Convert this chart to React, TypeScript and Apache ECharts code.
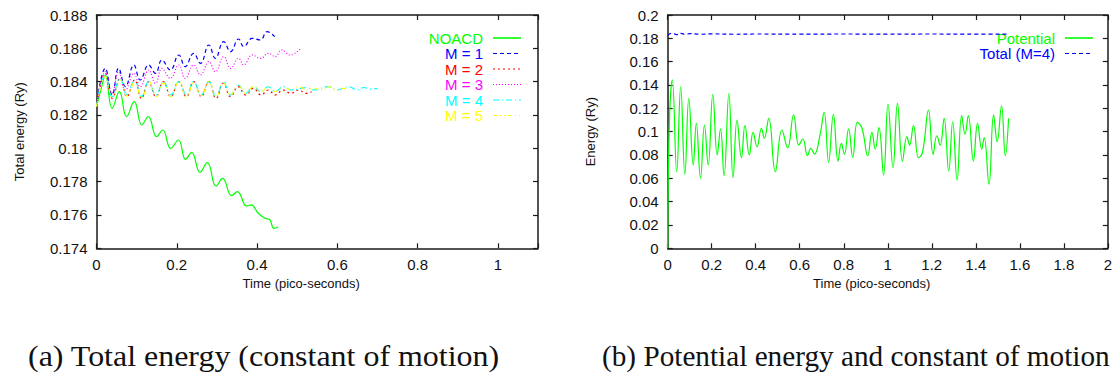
import React, { useEffect, useRef } from "react";
import * as echarts from "echarts";

// ---------- Panel (a): total energy, time in ps ----------
const noacd: number[][] = [
  [0, 0.1825], [0.012, 0.1836], [0.022, 0.1844], [0.039, 0.1824], [0.057, 0.1834],
  [0.075, 0.1819], [0.094, 0.1828], [0.113, 0.1814], [0.129, 0.1819], [0.15, 0.1807],
  [0.165, 0.1811], [0.185, 0.18], [0.204, 0.1805], [0.222, 0.17934], [0.237, 0.17976],
  [0.258, 0.17856], [0.276, 0.17914], [0.298, 0.17774], [0.314, 0.1782], [0.337, 0.17716],
  [0.351, 0.1774], [0.374, 0.17654], [0.385, 0.1766], [0.403, 0.1761], [0.42, 0.1758],
  [0.431, 0.17574], [0.442, 0.1752], [0.453, 0.17528],
];
const m1: number[][] = [
  [0, 0.1825], [0.022, 0.1848], [0.039, 0.1832], [0.055, 0.1848], [0.072, 0.1837],
  [0.093, 0.185], [0.109, 0.1841], [0.13, 0.185], [0.147, 0.1845], [0.163, 0.1853],
  [0.184, 0.1847], [0.205, 0.1856], [0.221, 0.1849], [0.242, 0.1857], [0.259, 0.1851],
  [0.28, 0.1862], [0.296, 0.1854], [0.317, 0.1864], [0.334, 0.1858], [0.354, 0.18656],
  [0.367, 0.1861], [0.388, 0.1866], [0.408, 0.1865], [0.425, 0.187], [0.444, 0.1867],
];
const m2: number[][] = [
  [0, 0.1825], [0.022, 0.1845], [0.039, 0.183], [0.059, 0.1842], [0.076, 0.1831],
  [0.095, 0.1841], [0.112, 0.183], [0.13, 0.184], [0.148, 0.1831], [0.167, 0.184],
  [0.185, 0.1831], [0.205, 0.184], [0.224, 0.1831], [0.242, 0.184], [0.261, 0.1831],
  [0.28, 0.184], [0.298, 0.183], [0.316, 0.1839], [0.334, 0.1831], [0.353, 0.1837],
  [0.372, 0.1832], [0.391, 0.1836], [0.41, 0.1832], [0.428, 0.1835], [0.445, 0.1832],
  [0.465, 0.1835], [0.485, 0.1833], [0.503, 0.1835], [0.522, 0.1833], [0.536, 0.1834],
];
const m3: number[][] = [
  [0, 0.1825], [0.022, 0.1846], [0.039, 0.1833], [0.055, 0.1846], [0.072, 0.1835],
  [0.093, 0.1845], [0.109, 0.1837], [0.13, 0.1847], [0.147, 0.1839], [0.163, 0.1848],
  [0.184, 0.1842], [0.205, 0.185], [0.221, 0.1842], [0.242, 0.185], [0.259, 0.1844],
  [0.28, 0.1852], [0.296, 0.1846], [0.317, 0.1855], [0.334, 0.1848], [0.354, 0.1854],
  [0.367, 0.185], [0.388, 0.1856], [0.408, 0.1854], [0.429, 0.1857], [0.445, 0.1855],
  [0.461, 0.1859], [0.482, 0.1856], [0.509, 0.186],
];
const m4: number[][] = [
  [0, 0.1825], [0.022, 0.1844], [0.039, 0.1831], [0.059, 0.1842], [0.076, 0.1832],
  [0.095, 0.1841], [0.112, 0.1831], [0.13, 0.184], [0.148, 0.1832], [0.167, 0.184],
  [0.185, 0.1832], [0.205, 0.184], [0.224, 0.1832], [0.242, 0.184], [0.261, 0.1832],
  [0.28, 0.184], [0.298, 0.1831], [0.316, 0.184], [0.334, 0.1832], [0.353, 0.1838],
  [0.372, 0.1833], [0.391, 0.1837], [0.41, 0.1834], [0.428, 0.1837], [0.445, 0.1834],
  [0.465, 0.1837], [0.485, 0.1835], [0.523, 0.18364], [0.541, 0.1835], [0.578, 0.1837],
  [0.599, 0.1835], [0.628, 0.1837], [0.649, 0.1835], [0.666, 0.18365], [0.683, 0.18355],
  [0.699, 0.1836],
];
const m5: number[][] = [
  [0, 0.1825], [0.022, 0.1843], [0.04, 0.183], [0.059, 0.1841], [0.077, 0.1831],
  [0.095, 0.184], [0.113, 0.183], [0.131, 0.184], [0.149, 0.1831], [0.167, 0.1839],
  [0.186, 0.1831], [0.205, 0.184], [0.224, 0.1831], [0.242, 0.1839], [0.261, 0.1831],
  [0.28, 0.184], [0.298, 0.1831], [0.316, 0.1839], [0.334, 0.1832], [0.353, 0.1838],
  [0.372, 0.1833], [0.391, 0.1837], [0.41, 0.1834], [0.428, 0.1837], [0.445, 0.1834],
  [0.465, 0.1837], [0.485, 0.1835], [0.504, 0.1837], [0.523, 0.1835], [0.541, 0.1836],
  [0.56, 0.1835], [0.578, 0.1837], [0.599, 0.1835], [0.615, 0.1836], [0.63, 0.18355],
];

// ---------- Panel (b): potential energy and constant of motion ----------
const potential: number[][] = [
  [0, 0], [0.008, 0.11], [0.021, 0.1443], [0.041, 0.0657], [0.059, 0.1385], [0.078, 0.0634],
  [0.096, 0.1286], [0.116, 0.0714], [0.13, 0.1071], [0.149, 0.06], [0.167, 0.1057],
  [0.184, 0.0714], [0.205, 0.132], [0.225, 0.08], [0.24, 0.1023], [0.256, 0.0623],
  [0.278, 0.1329], [0.297, 0.0605], [0.315, 0.11], [0.335, 0.0777], [0.351, 0.1051],
  [0.371, 0.08], [0.388, 0.0994], [0.406, 0.0871], [0.426, 0.1029], [0.439, 0.0943],
  [0.459, 0.1114], [0.489, 0.0657], [0.519, 0.1014], [0.545, 0.0862], [0.572, 0.1143],
  [0.596, 0.0885], [0.614, 0.0937], [0.635, 0.0794], [0.65, 0.0857], [0.667, 0.0808],
  [0.69, 0.095], [0.711, 0.1166], [0.731, 0.0737], [0.753, 0.1149], [0.774, 0.0748],
  [0.789, 0.09], [0.803, 0.0806], [0.822, 0.1023], [0.841, 0.0777], [0.862, 0.108],
  [0.883, 0.1029], [0.909, 0.0794], [0.928, 0.0994], [0.943, 0.0851], [0.96, 0.1034],
  [0.981, 0.0628], [1.001, 0.1237], [1.024, 0.0691], [1.044, 0.1243], [1.067, 0.0748],
  [1.087, 0.0957], [1.099, 0.0885], [1.117, 0.1051], [1.14, 0.0777], [1.158, 0.0823],
  [1.185, 0.1185], [1.206, 0.0806], [1.223, 0.0965], [1.238, 0.0885], [1.256, 0.1114],
  [1.277, 0.0663], [1.295, 0.1085], [1.315, 0.0585], [1.336, 0.1137], [1.351, 0.0977],
  [1.366, 0.1137], [1.389, 0.0748], [1.408, 0.1071], [1.427, 0.0851], [1.438, 0.0948],
  [1.46, 0.0549], [1.481, 0.1143], [1.497, 0.0914], [1.517, 0.1222], [1.534, 0.0794],
  [1.549, 0.1114],
];
const totalM4: number[][] = [
  [0, 0.1825], [0.02, 0.1845], [0.04, 0.1832], [0.06, 0.1843], [0.08, 0.1834],
  [0.1, 0.1841], [0.15, 0.1835], [0.2, 0.1838], [0.3, 0.1835], [0.4, 0.1837],
  [0.6, 0.1836], [0.8, 0.1837], [1.0, 0.1836], [1.2, 0.1837], [1.4, 0.1836], [1.55, 0.1837],
];

const seriesNamesA = ["NOACD", "M = 1", "M = 2", "M = 3", "M = 4", "M = 5"];
const seriesNamesB = ["Potential", "Total (M=4)"];
const captionA = "(a) Total energy (constant of motion)";
const captionB = "(b) Potential energy and constant of motion";
const xTitle = "Time (pico-seconds)";
const yTitleA = "Total energy (Ry)";
const yTitleB = "Energy (Ry)";

const colorsA = ["#00ff00", "#0000ff", "#ff0000", "#ff00ff", "#00ffff", "#ffff00"];
const dashesA: (number[] | null)[] = [null, [4, 3], [2, 3], [1, 2], [6, 3, 1, 3], [4, 3, 1, 3, 1, 3]];
const colorsB = ["#00ff00", "#0000ff"];
const dashesB: (number[] | null)[] = [null, [4, 3]];

const SANS = "Liberation Sans";
const SERIF = "Liberation Serif";
const AX = "#1a1a1a";

function fmt(v: number) {
  return String(Number(v.toFixed(4)));
}

function measure(text: string, font: string) {
  const c = document.createElement("canvas").getContext("2d");
  if (!c) return 1;
  c.font = font;
  return c.measureText(text).width || 1;
}

function legendGraphics(names: string[], colors: string[], dashes: (number[] | null)[], textRight: number, iconLeft: number, iconRight: number, firstY: number, step: number) {
  const els: any[] = [];
  names.forEach((n, i) => {
    const y = firstY + i * step;
    els.push({
      type: "text", x: textRight, y, silent: true,
      style: { text: n, fontFamily: SANS, fontSize: 15, fill: colors[i], textAlign: "right", textVerticalAlign: "middle" },
    });
    els.push({
      type: "line", silent: true,
      shape: { x1: iconLeft, y1: y, x2: iconRight, y2: y },
      style: { stroke: colors[i], lineWidth: i === 0 ? 1.6 : 1.2, lineDash: dashes[i] || undefined },
    });
  });
  return els;
}

export default function App() {
  const ref = useRef<HTMLDivElement>(null);
  useEffect(() => {
    if (!ref.current) return;
    const chart = echarts.init(ref.current, null, { renderer: "svg" });

    const gridTop = 15;
    const gridH = 233.3;
    const gridA = { left: 96.5, top: gridTop, width: 441.5, height: gridH };
    const gridB = { left: 667.7, top: gridTop, width: 441.6, height: gridH };

    const axisLine = { show: true, onZero: false, lineStyle: { color: AX, width: 1.5 } };
    const axisTick = { show: true, inside: true, length: 5, lineStyle: { color: AX, width: 1.2 } };
    const labelStyle = { fontFamily: SANS, fontSize: 15, color: "#111" };
    const nameStyle = { fontFamily: SANS, fontSize: 13, color: "#111" };

    const xMain = (grid: number, max: number, hideAbove: number) => ({
      type: "value", gridIndex: grid, position: "bottom", min: 0, max, interval: 0.2,
      axisLine, axisTick, splitLine: { show: false },
      axisLabel: { ...labelStyle, margin: 9, formatter: (v: number) => (v > hideAbove ? "" : fmt(v)) },
      name: xTitle, nameLocation: "middle", nameGap: 20,
      nameTextStyle: { ...nameStyle, padding: [0, 32, 0, 0] },
    });
    const xMirror = (grid: number, max: number) => ({
      type: "value", gridIndex: grid, position: "top", min: 0, max, interval: 0.2,
      axisLine, axisTick, splitLine: { show: false }, axisLabel: { show: false },
    });
    const yMain = (grid: number, min: number, max: number, interval: number, name: string) => ({
      type: "value", gridIndex: grid, position: "left", min, max, interval,
      axisLine, axisTick, splitLine: { show: false },
      axisLabel: { ...labelStyle, margin: 9, formatter: (v: number) => fmt(v) },
      name, nameLocation: "middle", nameGap: 71, nameTextStyle: nameStyle,
    });
    const yMirror = (grid: number, min: number, max: number, interval: number) => ({
      type: "value", gridIndex: grid, position: "right", min, max, interval,
      axisLine, axisTick, splitLine: { show: false }, axisLabel: { show: false },
    });

    const line = (name: string, data: number[][], color: string, dash: number[] | null, xi: number, yi: number) => ({
      type: "line", name, data, xAxisIndex: xi, yAxisIndex: yi,
      showSymbol: false, symbol: "none", smooth: 0.45, clip: true,
      lineStyle: { color, width: 1.2, type: dash || "solid" },
      itemStyle: { color },
      emphasis: { disabled: true },
    });

    const capFont = 30;
    const wA = measure(captionA, `${capFont}px "${SERIF}"`);
    const wB = measure(captionB, `${capFont}px "${SERIF}"`);

    chart.setOption({
      animation: false,
      backgroundColor: "#ffffff",
      grid: [gridA, gridB],
      xAxis: [xMain(0, 1.1, 1.05), xMirror(0, 1.1), xMain(1, 2, 2.05), xMirror(1, 2)],
      yAxis: [
        yMain(0, 0.174, 0.188, 0.002, yTitleA), yMirror(0, 0.174, 0.188, 0.002),
        yMain(1, 0, 0.2, 0.02, yTitleB), yMirror(1, 0, 0.2, 0.02),
      ],
      series: [
        ...seriesNamesA.map((n, i) => line(n, [noacd, m1, m2, m3, m4, m5][i], colorsA[i], dashesA[i], 0, 0)),
        line(seriesNamesB[0], potential, colorsB[0], dashesB[0], 2, 2),
        line(seriesNamesB[1], totalM4, colorsB[1], dashesB[1], 2, 2),
      ],
      graphic: [
        ...legendGraphics(seriesNamesA, colorsA, dashesA, 483, 493, 521, 38, 15.5),
        ...legendGraphics(seriesNamesB, colorsB, dashesB, 1055, 1065, 1093, 38, 15.5),
        {
          type: "text", x: 28, y: 356, scaleX: 472 / wA, silent: true,
          style: { text: captionA, fontFamily: SERIF, fontSize: capFont, fill: "#111", textAlign: "left", textVerticalAlign: "middle" },
        },
        {
          type: "text", x: 602, y: 356, scaleX: 508 / wB, silent: true,
          style: { text: captionB, fontFamily: SERIF, fontSize: capFont, fill: "#111", textAlign: "left", textVerticalAlign: "middle" },
        },
      ],
    });
    return () => chart.dispose();
  }, []);
  return <div ref={ref} style={{ position: "absolute", left: 0, top: 0, width: 1115, height: 376 }} />;
}
